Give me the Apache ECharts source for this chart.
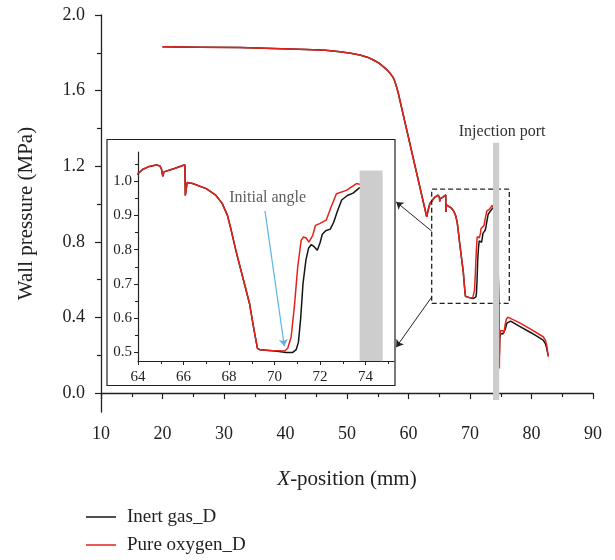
<!DOCTYPE html>
<html>
<head>
<meta charset="utf-8">
<script src="https://cdn.jsdelivr.net/npm/echarts@6/dist/echarts.min.js"></script>
<style>
  html, body { margin: 0; padding: 0; background: #fff; }
  #chart { width: 615px; height: 560px; }
</style>
</head>
<body>
<div id="chart"></div>
<script>
// both curves are the same upstream of the inset window
var headCurve = [[20, 1.832], [26, 1.830], [32.6, 1.828], [38, 1.823], [43.4, 1.818], [46.5, 1.813], [48.9, 1.806],
  [50.6, 1.798], [52.1, 1.788], [53.3, 1.777], [54.3, 1.762], [55.2, 1.745], [55.9, 1.727], [56.5, 1.71], [57.0, 1.692],
  [57.5, 1.67], [57.8, 1.647], [58.1, 1.615], [58.34, 1.586], [62.96, 0.933], [63.25, 0.975], [63.5, 1.004], [63.8, 1.016]]
var insetShared = [[64.0, 1.022], [64.2, 1.034], [64.5, 1.043], [64.8, 1.047], [64.95, 1.045], [65.03, 1.036], [65.09, 1.014],
  [65.14, 1.027], [65.6, 1.037], [66.06, 1.048], [66.08, 0.958], [66.16, 0.996], [66.4, 0.993], [67.0, 0.978], [67.4, 0.96],
  [67.7, 0.935], [67.93, 0.9], [68.08, 0.861], [68.3, 0.798], [68.6, 0.72], [68.9, 0.643], [69.1, 0.565], [69.25, 0.512],
  [69.35, 0.508], [69.9, 0.505]]
var dipBlack = [[70.2, 0.503], [70.5, 0.5], [70.8, 0.5], [70.95, 0.508], [71.05, 0.53], [71.15, 0.6], [71.25, 0.7],
  [71.38, 0.77], [71.5, 0.805], [71.62, 0.815], [71.75, 0.808], [71.88, 0.798], [72.0, 0.82], [72.1, 0.845], [72.25, 0.855],
  [72.45, 0.86], [72.6, 0.88], [72.75, 0.91], [72.95, 0.945], [73.2, 0.958], [73.45, 0.965], [73.74, 0.981]]
var dipRed = [[70.2, 0.505], [70.45, 0.504], [70.58, 0.512], [70.73, 0.545], [70.87, 0.633], [71.02, 0.75], [71.17, 0.827],
  [71.27, 0.837], [71.39, 0.834], [71.51, 0.822], [71.68, 0.842], [71.8, 0.871], [71.98, 0.876], [72.27, 0.886],
  [72.49, 0.925], [72.72, 0.963], [73.16, 0.973], [73.6, 0.993], [73.74, 0.991]]
// downstream of the injection port
var tailBlack = [[74.2, 0.96], [74.5, 0.8], [74.68, 0.47], [74.77, 0.2], [74.84, 0.29], [74.95, 0.315], [75.15, 0.31],
  [75.35, 0.313], [75.55, 0.303], [75.75, 0.34], [76.0, 0.37], [76.3, 0.38], [76.6, 0.381], [78, 0.354], [80, 0.318],
  [81.9, 0.28], [82.25, 0.262], [82.47, 0.238], [82.6, 0.215], [82.7, 0.2]]
var tailRed = [[74.2, 0.97], [74.5, 0.8], [74.68, 0.47], [74.77, 0.13], [74.84, 0.3], [74.95, 0.33], [75.15, 0.328],
  [75.35, 0.33], [75.53, 0.318], [75.7, 0.36], [75.9, 0.39], [76.15, 0.402], [76.4, 0.404], [78, 0.373], [80, 0.336],
  [81.9, 0.298], [82.25, 0.28], [82.47, 0.254], [82.6, 0.225], [82.73, 0.192]]

var seriesNames = ['Inert gas_D', 'Pure oxygen_D']
var injectionPort = [73.74, 74.75]   // x range of the grey bar
var zoomWindow = [[63.77, 0.475], [76.39, 1.079]]
var mainYLabels = [0, 0.4, 0.8, 1.2, 1.6, 2.0]
var mainYMinor = [0.2, 0.6, 1.0, 1.4, 1.8]
var insetYLabels = [0.5, 0.6, 0.7, 0.8, 0.9, 1.0]
var insetYMinor = [0.55, 0.65, 0.75, 0.85, 0.95, 1.05]
var insetXLabels = [64, 66, 68, 70, 72, 74]
var insetXMinor = [65, 67, 69, 71, 73, 75]

var blackCurve = headCurve.concat(insetShared, dipBlack, tailBlack)
var redCurve = headCurve.concat(insetShared, dipRed, tailRed)

var serif = 'Liberation Serif, DejaVu Serif, serif'
var ink = '#222'
var black = '#151515'
var red = '#e3231b'

var chart = echarts.init(document.getElementById('chart'))

function curve(name, data, color, grid) {
  return {
    name: name,
    type: 'line',
    data: data,
    xAxisIndex: grid ? 1 : 0,
    yAxisIndex: grid ? 2 : 0,
    symbol: 'none',
    clip: true,
    silent: true,
    lineStyle: { color: color, width: 1.5 },
    itemStyle: { color: color },
    z: 2
  }
}

function greyBar(grid, top) {
  return {
    type: 'line',
    data: [],
    xAxisIndex: grid ? 1 : 0,
    yAxisIndex: grid ? 2 : 0,
    silent: true,
    markArea: {
      silent: true,
      z: 4,
      itemStyle: { color: '#cdcdcd', opacity: 1 },
      label: grid ? { show: false } : {
        show: true, position: 'top', distance: 3, offset: [6, 0],
        fontFamily: serif, fontSize: 16, color: '#333'
      },
      data: [[
        { name: grid ? '' : 'Injection port', xAxis: injectionPort[0], yAxis: top },
        { xAxis: injectionPort[1], yAxis: grid ? 0.475 : -0.037 }
      ]]
    }
  }
}

chart.setOption({
  animation: false,
  backgroundColor: '#fff',
  textStyle: { fontFamily: serif },
  grid: [
    { left: 101, right: 22, top: 15, bottom: 148 },
    { left: 138, top: 152, width: 256, height: 209 } // inset
  ],
  graphic: [{
    type: 'rect',
    z: 0,
    shape: { x: 107, y: 139.5, width: 288, height: 246 },
    style: { fill: 'none', stroke: ink, lineWidth: 1.2 }
  }],
  legend: {
    data: seriesNames,
    orient: 'vertical',
    left: 86,
    top: 506,
    padding: 0,
    icon: 'rect',
    itemWidth: 30,
    itemHeight: 1.5,
    itemGap: 6,
    selectedMode: false,
    textStyle: { fontFamily: serif, fontSize: 19, color: ink, lineHeight: 22, padding: [0, 0, 0, 6] }
  },
  xAxis: [{
    type: 'value', gridIndex: 0, min: 10, max: 90, interval: 10,
    name: '{i|X}-position (mm)', nameLocation: 'middle', nameGap: 57,
    nameTextStyle: {
      fontFamily: serif, fontSize: 21, color: ink,
      rich: { i: { fontFamily: serif, fontSize: 21, fontStyle: 'italic', color: ink } }
    },
    axisLine: { lineStyle: { color: ink, width: 1.3 } },
    axisTick: { length: 6, lineStyle: { color: ink, width: 1.2 } },
    minorTick: { show: true, splitNumber: 2, length: 4, lineStyle: { color: ink, width: 1.2 } },
    axisLabel: { fontFamily: serif, fontSize: 18, color: ink, margin: 13 },
    splitLine: { show: false }
  }, {
    type: 'value', gridIndex: 1, min: 64, max: 75.25,
    axisLine: { lineStyle: { color: ink, width: 1.2 } },
    axisTick: { length: 4, customValues: insetXLabels, lineStyle: { color: ink } },
    axisLabel: { fontFamily: serif, fontSize: 15, color: ink, margin: 9, customValues: insetXLabels },
    splitLine: { show: false }
  }, {
    type: 'value', gridIndex: 1, min: 64, max: 75.25, position: 'bottom',
    axisLine: { show: false },
    axisTick: { length: 3, customValues: insetXMinor, lineStyle: { color: ink } },
    axisLabel: { show: false },
    splitLine: { show: false }
  }],
  yAxis: [{
    type: 'value', gridIndex: 0, min: -0.1, max: 2.0, position: 'left',
    name: 'Wall pressure (MPa)', nameLocation: 'middle', nameGap: 64,
    nameTextStyle: { fontFamily: serif, fontSize: 21, color: ink },
    axisLine: { show: true, lineStyle: { color: ink, width: 1.3 } },
    axisTick: { show: true, length: 6, customValues: mainYLabels, lineStyle: { color: ink, width: 1.2 } },
    axisLabel: {
      fontFamily: serif, fontSize: 18, color: ink, margin: 16, customValues: mainYLabels,
      formatter: function (v) { return v.toFixed(1) }
    },
    splitLine: { show: false }
  }, {
    type: 'value', gridIndex: 0, min: -0.1, max: 2.0, position: 'left',
    axisLine: { show: false },
    axisTick: { show: true, length: 4, customValues: mainYMinor, lineStyle: { color: ink, width: 1.2 } },
    axisLabel: { show: false },
    splitLine: { show: false }
  }, {
    type: 'value', gridIndex: 1, min: 0.475, max: 1.085, position: 'left',
    axisLine: { show: true, lineStyle: { color: ink, width: 1.2 } },
    axisTick: { show: true, length: 4, customValues: insetYLabels, lineStyle: { color: ink } },
    axisLabel: {
      fontFamily: serif, fontSize: 15, color: ink, margin: 6, customValues: insetYLabels,
      formatter: function (v) { return v.toFixed(1) }
    },
    splitLine: { show: false }
  }, {
    type: 'value', gridIndex: 1, min: 0.475, max: 1.085, position: 'left',
    axisLine: { show: false },
    axisTick: { show: true, length: 3, customValues: insetYMinor, lineStyle: { color: ink } },
    axisLabel: { show: false },
    splitLine: { show: false }
  }],
  series: [
    curve(seriesNames[0], blackCurve, black, 0),
    curve(seriesNames[1], redCurve, red, 0),
    curve(seriesNames[0], blackCurve, black, 1),
    curve(seriesNames[1], redCurve, red, 1),
    greyBar(0, 1.324),
    greyBar(1, 1.031),
    { // dashed zoom window
      type: 'line', data: [], silent: true,
      markArea: {
        silent: true, z: 3,
        itemStyle: { color: 'rgba(0,0,0,0)', borderColor: ink, borderWidth: 1.3, borderType: [5, 3] },
        data: [[{ xAxis: zoomWindow[0][0], yAxis: zoomWindow[0][1] }, { xAxis: zoomWindow[1][0], yAxis: zoomWindow[1][1] }]]
      }
    },
    { // connectors towards the inset
      type: 'lines', coordinateSystem: 'cartesian2d', xAxisIndex: 0, yAxisIndex: 0, silent: true,
      symbol: ['none', 'arrow'], symbolSize: 7,
      lineStyle: { color: ink, width: 1, opacity: 1 },
      data: [
        { coords: [[zoomWindow[0][0], 0.857], [58.0, 1.011]] },
        { coords: [[zoomWindow[0][0], 0.508], [58.0, 0.243]] }
      ]
    },
    { // initial angle arrow
      type: 'lines', coordinateSystem: 'cartesian2d', xAxisIndex: 1, yAxisIndex: 2, silent: true,
      symbol: ['none', 'arrow'], symbolSize: 7,
      lineStyle: { color: '#5ab4e6', width: 1.2, opacity: 1 },
      data: [{ coords: [[69.58, 0.913], [70.43, 0.518]] }]
    },
    {
      type: 'scatter', xAxisIndex: 1, yAxisIndex: 2, silent: true, symbolSize: 0,
      label: { show: true, position: 'inside', formatter: 'Initial angle', fontFamily: serif, fontSize: 16, color: '#333' },
      data: [[69.7, 0.952]]
    }
  ]
})
</script>
</body>
</html>
